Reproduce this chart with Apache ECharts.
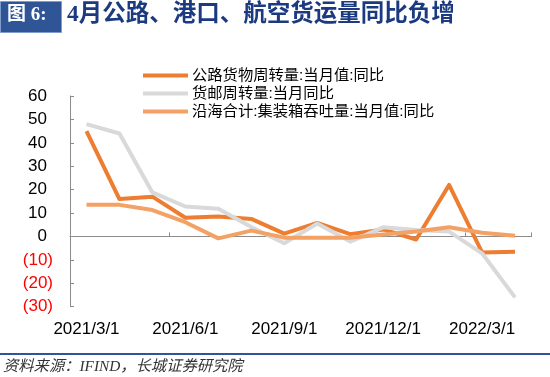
<!DOCTYPE html>
<html><head><meta charset="utf-8">
<script src="https://cdn.jsdelivr.net/npm/echarts@6/dist/echarts.min.js"></script>
<style>html,body{margin:0;padding:0;background:#fff}#c{width:550px;height:377px}</style>
</head><body><div id="c"></div>
<script>
const categories = ['2021/3/1','2021/4/1','2021/5/1','2021/6/1','2021/7/1','2021/8/1','2021/9/1','2021/10/1','2021/11/1','2021/12/1','2022/1/1','2022/2/1','2022/3/1','2022/4/1'];
const seriesNames = ['公路货物周转量:当月值:同比','货邮周转量:当月同比','沿海合计:集装箱吞吐量:当月值:同比'];
const road = [45, 16, 17, 8, 8.5, 7.5, 1.2, 5.8, 1, 3, -1.3, 22, -6.8, -6.5];
const airMail = [48, 44, 18.8, 12.8, 11.8, 4, -2.9, 5.5, -2.2, 3.9, 2.8, 2.1, -7.2, -26];
const coastal = [13.5, 13.5, 11.3, 6.1, -0.8, 2.5, -0.5, -0.5, -0.5, 0.8, 2.1, 3.9, 1.6, 0.3];
const yTicks = {min: -30, max: 60, interval: 10};
const titleTag = '图 6:';
const titleText = '4月公路、港口、航空货运量同比负增';
const sourceText = '资料来源：IFIND，长城证券研究院';

const colors = ['#ED7D31', '#D9D9D9', '#F4A166'];
const chart = echarts.init(document.getElementById('c'), null, {renderer: 'canvas'});
const fontNum = "'Liberation Sans', Arial, sans-serif";
const fontCJK = "'Liberation Sans', 'Noto Sans CJK SC', sans-serif";
function mk(name, data, i) {
  return {
    name: name, type: 'line', data: data, xAxisIndex: 0, yAxisIndex: 0,
    symbol: 'none', smooth: false, z: 2 + i,
    lineStyle: {color: colors[i], width: 4, cap: 'butt', join: 'round'},
    itemStyle: {color: colors[i]}
  };
}
chart.setOption({
  animation: false,
  grid: {left: 70, right: 18.5, top: 96, bottom: 70.3, containLabel: false},
  legend: {
    orient: 'vertical', left: 138, top: 61.5, itemGap: 0,
    icon: 'rect', itemWidth: 45, itemHeight: 4,
    textStyle: {fontFamily: fontCJK, fontSize: 15.3, color: '#000', lineHeight: 18, padding: [0,0,0,-1]},
    data: seriesNames
  },
  xAxis: [
    {type: 'category', data: categories, position: 'bottom', boundaryGap: true,
     axisLine: {show: false, onZero: false}, axisTick: {show: false},
     axisLabel: {interval: 2, margin: 14, fontFamily: fontNum, fontSize: 17, color: '#000'},
     splitLine: {show: false}},
    {type: 'category', data: categories, position: 'top', boundaryGap: true,
     axisLine: {show: true, onZero: true, lineStyle: {color: '#8C8C8C', width: 1}},
     axisTick: {show: true, interval: 2, inside: false, length: 4, lineStyle: {color: '#8C8C8C'}},
     axisLabel: {show: false}, splitLine: {show: false}}
  ],
  yAxis: {
    type: 'value', min: yTicks.min, max: yTicks.max, interval: yTicks.interval,
    axisLine: {show: true, lineStyle: {color: '#8C8C8C', width: 1}},
    axisTick: {show: true, inside: true, length: 4, lineStyle: {color: '#8C8C8C'}},
    splitLine: {show: false},
    axisLabel: {
      margin: 17,
      formatter: function (v) { return v < 0 ? '{n|(' + (-v) + ')}' : '{p|' + v + '}'; },
      rich: {
        n: {fontFamily: fontNum, fontSize: 17, color: '#FF0000'},
        p: {fontFamily: fontNum, fontSize: 17, color: '#000', padding: [0, 6, 0, 0]}
      }
    }
  },
  series: [mk(seriesNames[0], road, 0), mk(seriesNames[1], airMail, 1), mk(seriesNames[2], coastal, 2)],
  graphic: [
    {type: 'rect', left: 0, top: 1, shape: {width: 61, height: 31}, style: {fill: '#2F5597', stroke: '#7F9CCB', lineWidth: 1}},
    {type: 'text', left: 7, top: 6, style: {text: titleTag, fill: '#fff', font: "bold 19px 'Liberation Serif', 'Noto Sans CJK SC', serif"}},
    {type: 'text', left: 67, top: 3, style: {text: titleText, fill: '#1B3A80', font: "bold 23.5px 'Liberation Serif', 'Noto Sans CJK SC', serif"}},
    {type: 'rect', left: 0, top: 353, shape: {width: 550, height: 2}, style: {fill: '#2F5597'}},
    {type: 'text', left: 3, top: 359, style: {text: sourceText, fill: '#333', font: "italic 15.3px 'Liberation Serif', 'Noto Sans CJK SC', serif"}}
  ]
});
</script></body></html>
